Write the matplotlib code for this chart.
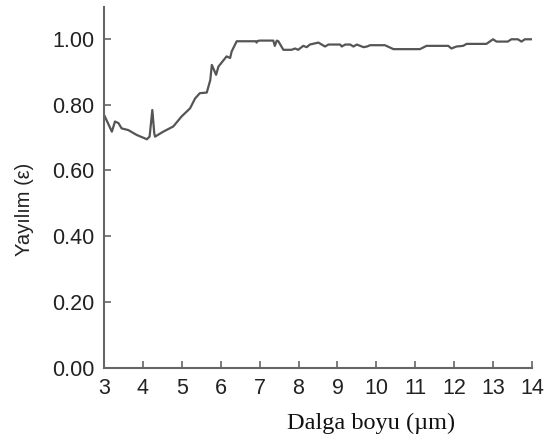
import matplotlib
matplotlib.use("Agg")
import matplotlib.pyplot as plt

# emissivity curve
wavelength = [3.00, 3.20, 3.28, 3.37, 3.45, 3.62, 3.84, 4.10, 4.17, 4.24, 4.29, 4.31,
              4.52, 4.78, 4.99, 5.21, 5.34, 5.46, 5.64, 5.73, 5.77, 5.88, 5.94, 6.15,
              6.24, 6.28, 6.41, 6.90, 6.92, 6.95, 7.01, 7.35, 7.39, 7.44, 7.48, 7.61,
              7.82, 7.91, 7.99, 8.12, 8.21, 8.29, 8.51, 8.68, 8.77, 9.07, 9.11, 9.20,
              9.33, 9.41, 9.50, 9.67, 9.76, 9.84, 10.22, 10.44, 11.12, 11.29, 11.85,
              11.93, 12.06, 12.23, 12.32, 12.83, 13.00, 13.09, 13.38, 13.47, 13.64,
              13.73, 13.82, 14.00]
emissivity = [0.769, 0.718, 0.749, 0.744, 0.728, 0.723, 0.708, 0.695, 0.703, 0.784,
              0.713, 0.703, 0.718, 0.734, 0.764, 0.789, 0.819, 0.835, 0.837, 0.875,
              0.921, 0.891, 0.916, 0.947, 0.942, 0.962, 0.993, 0.993, 0.989, 0.994,
              0.995, 0.995, 0.979, 0.995, 0.993, 0.967, 0.967, 0.971, 0.967, 0.979,
              0.975, 0.983, 0.989, 0.977, 0.983, 0.983, 0.977, 0.983, 0.983, 0.977,
              0.983, 0.975, 0.977, 0.981, 0.981, 0.969, 0.969, 0.979, 0.979, 0.971,
              0.977, 0.979, 0.985, 0.985, 0.999, 0.992, 0.992, 0.999, 0.999, 0.992,
              0.999, 0.999]

xticks = list(range(3, 15))
yticks = [0.0, 0.2, 0.4, 0.6, 0.8, 1.0]

fig = plt.figure(figsize=(5.45, 4.41), dpi=100)
ax = fig.add_axes([0.191, 0.166, 0.785, 0.818])

ax.plot(wavelength, emissivity, color="#555555", lw=1.6)

ax.set_xlim(3, 14)
ax.set_ylim(0, 1.097)
ax.set_xticks(xticks)
ax.set_yticks(yticks)
ax.set_yticklabels(["%.2f" % v for v in yticks])

for s in ["top", "right"]:
    ax.spines[s].set_visible(False)
for s in ["left", "bottom"]:
    ax.spines[s].set_color("#666666")
    ax.spines[s].set_linewidth(1.5)

ax.tick_params(direction="in", length=5, width=1.2, color="#666666",
               labelsize=15.5, labelcolor="#222222", pad=7)
for lab in ax.get_xticklabels() + ax.get_yticklabels():
    lab.set_family("Liberation Sans")

ax.set_xlabel("Dalga boyu (µm)", family="Liberation Serif", fontsize=17.5,
              color="#111111")
ax.xaxis.set_label_coords(0.624, -0.125)
ax.set_ylabel("Yayılım (ε)", family=["Liberation Sans", "DejaVu Sans"],
              fontsize=14.5, color="#222222")
ax.yaxis.set_label_coords(-0.165, 0.44)

fig.savefig("out.png", dpi=100)
